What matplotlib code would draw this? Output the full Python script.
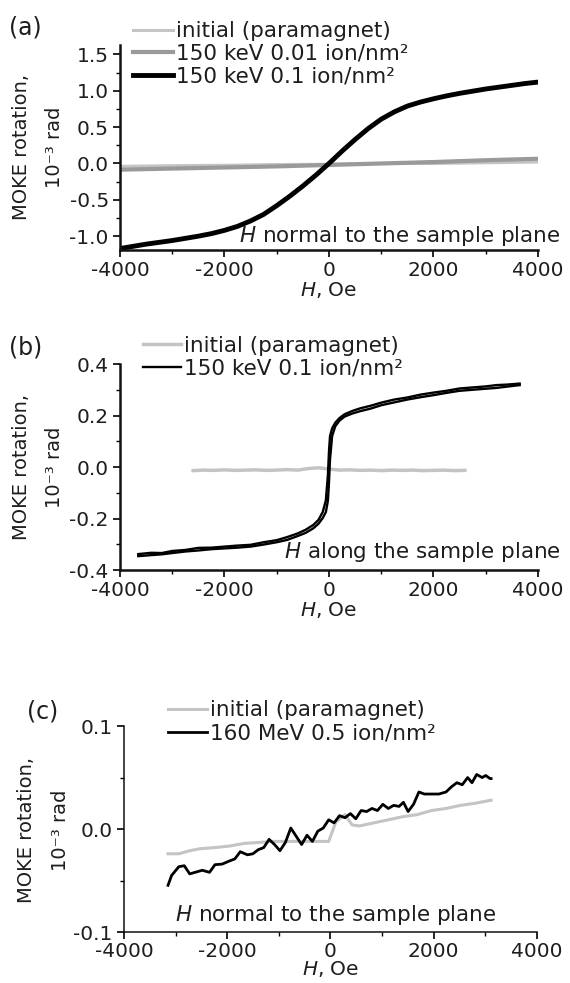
import numpy as np
import matplotlib
matplotlib.use("Agg")
import matplotlib.pyplot as plt
from matplotlib.ticker import MultipleLocator, FormatStrFormatter

plt.rcParams['font.family'] = ['DejaVu Sans']
plt.rcParams['axes.unicode_minus'] = False
plt.rcParams['mathtext.fontset'] = 'dejavusans'

# ---------------- panel (a) ----------------
a_H = [-4000, -3750, -3500, -3250, -3000, -2750, -2500, -2250, -2000, -1750, -1500,
       -1250, -1000, -750, -500, -250, 0, 250, 500, 750, 1000, 1250, 1500, 1750,
       2000, 2250, 2500, 2750, 3000, 3250, 3500, 3750, 4000]
a_high = [-1.17, -1.14, -1.11, -1.085, -1.06, -1.03, -1.00, -0.965, -0.92, -0.865, -0.79,
          -0.70, -0.58, -0.45, -0.31, -0.16, 0.0, 0.17, 0.33, 0.48, 0.61, 0.71, 0.79, 0.845,
          0.89, 0.93, 0.965, 0.995, 1.025, 1.05, 1.075, 1.10, 1.12]
a_H_coarse = [-4000, -3000, -2000, -1000, 0, 1000, 2000, 3000, 4000]
a_low = [-0.085, -0.07, -0.055, -0.04, -0.02, 0.0, 0.02, 0.045, 0.065]
a_init = [-0.04, -0.03, -0.025, -0.015, -0.01, 0.0, 0.0, 0.01, 0.02]

# ---------------- panel (b) ----------------
b_H = [-3650, -3400, -3200, -3000, -2750, -2500, -2250, -2000, -1750, -1500, -1250,
       -1000, -800, -600, -450, -300, -200, -120, -60, -20, 0, 20, 60, 120, 200, 300,
       450, 600, 800, 1000, 1250, 1500, 1750, 2000, 2250, 2500, 2750, 3000, 3200, 3400, 3650]
b_down = [-0.338, -0.333, -0.334, -0.326, -0.322, -0.314, -0.313, -0.309, -0.305, -0.302, -0.292,
          -0.284, -0.272, -0.258, -0.244, -0.225, -0.205, -0.175, -0.13, -0.03, 0.06, 0.12, 0.15,
          0.172, 0.19, 0.205, 0.218, 0.228, 0.238, 0.25, 0.262, 0.27, 0.281, 0.289, 0.296, 0.305,
          0.309, 0.313, 0.318, 0.320, 0.324]
b_up = [-0.346, -0.342, -0.339, -0.334, -0.328, -0.324, -0.319, -0.316, -0.313, -0.309, -0.301,
        -0.292, -0.283, -0.268, -0.256, -0.238, -0.22, -0.198, -0.175, -0.13, -0.06, 0.03, 0.12,
        0.158, 0.18, 0.196, 0.208, 0.217, 0.227, 0.24, 0.251, 0.262, 0.271, 0.279, 0.288, 0.296,
        0.300, 0.304, 0.307, 0.312, 0.318]
b_H_init = [-2600, -2400, -2200, -2000, -1800, -1600, -1400, -1200, -1000, -800, -600, -400,
            -200, 0, 200, 400, 600, 800, 1000, 1200, 1400, 1600, 1800, 2000, 2200, 2400, 2600]
b_init = [-0.014, -0.012, -0.013, -0.011, -0.013, -0.012, -0.011, -0.013, -0.012, -0.010, -0.012,
          -0.006, -0.003, -0.008, -0.012, -0.011, -0.013, -0.012, -0.014, -0.012, -0.013, -0.012,
          -0.014, -0.013, -0.012, -0.014, -0.013]

# ---------------- panel (c) ----------------
c_H = [-3147, -3077, -2937, -2832, -2727, -2622, -2483, -2343, -2238, -2098, -1958, -1853,
       -1748, -1608, -1503, -1398, -1293, -1189, -1084, -979, -874, -769, -664, -559, -455,
       -350, -245, -140, -35, 70, 175, 280, 385, 490, 594, 699, 804, 909, 1014, 1119, 1224,
       1329, 1413, 1503, 1608, 1713, 1818, 1958, 2098, 2238, 2343, 2448, 2552, 2657, 2741,
       2832, 2937, 3007, 3091, 3111]
c_high = [-0.0546, -0.045, -0.0365, -0.0356, -0.0435, -0.042, -0.040, -0.042, -0.0346, -0.034,
          -0.031, -0.029, -0.022, -0.025, -0.024, -0.020, -0.018, -0.010, -0.015, -0.021, -0.013,
          0.001, -0.007, -0.015, -0.006, -0.012, -0.002, 0.001, 0.009, 0.006, 0.013, 0.011, 0.015,
          0.010, 0.018, 0.017, 0.020, 0.018, 0.024, 0.020, 0.023, 0.022, 0.026, 0.017, 0.024,
          0.036, 0.034, 0.034, 0.034, 0.036, 0.041, 0.045, 0.043, 0.050, 0.045, 0.053, 0.050,
          0.052, 0.049, 0.049]
c_H_init = [-3147, -2937, -2727, -2517, -2238, -1958, -1678, -1398, -1119, -839, -559, -280,
            -35, 105, 280, 420, 559, 839, 1119, 1398, 1678, 1958, 2238, 2517, 2797, 3111]
c_init = [-0.024, -0.024, -0.021, -0.019, -0.018, -0.0165, -0.014, -0.013, -0.012, -0.012,
          -0.012, -0.012, -0.012, 0.007, 0.014, 0.004, 0.003, 0.006, 0.009, 0.012, 0.014,
          0.018, 0.020, 0.023, 0.025, 0.028]

TXT = '#1e1e1e'
LIGHT = '#c4c4c4'
MID = '#9a9a9a'

fig = plt.figure(figsize=(5.7, 9.83), dpi=100)


def style(ax, ylim, ymaj, ymin, spine_lw, xlabelpad=0, xpad=3):
    ax.set_xlim(-4000, 4000)
    ax.set_ylim(*ylim)
    ax.set_facecolor('none')
    for s in ['top', 'right']:
        ax.spines[s].set_visible(False)
    for s in ['left', 'bottom']:
        ax.spines[s].set_linewidth(spine_lw)
        ax.spines[s].set_color('#111111')
    ax.xaxis.set_major_locator(MultipleLocator(2000))
    ax.xaxis.set_minor_locator(MultipleLocator(1000))
    ax.yaxis.set_major_locator(MultipleLocator(ymaj))
    ax.yaxis.set_minor_locator(MultipleLocator(ymin))
    ax.yaxis.set_major_formatter(FormatStrFormatter('%.1f'))
    ax.tick_params(which='major', direction='out', length=5, width=1.2,
                   labelsize=14.5, pad=3, labelcolor=TXT)
    ax.tick_params(axis='x', which='major', pad=xpad)
    ax.tick_params(which='minor', direction='out', length=3, width=1)
    ax.set_xlabel(r'$\mathit{H}$, Oe', fontsize=14.5, labelpad=xlabelpad, color=TXT)


def ylab(y_center, x1, x2):
    fig.text(x1 / 570, y_center, 'MOKE rotation,', rotation=90, fontsize=14,
             ha='center', va='center', color=TXT)
    fig.text(x2 / 570, y_center, '10\u207b\u00b3 rad', rotation=90, fontsize=14,
             ha='center', va='center', color=TXT)


# ---- (a)
ax_a = fig.add_axes([0.2105, 0.7457, 0.7333, 0.2085])
style(ax_a, (-1.19, 1.63), 0.5, 0.25, 1.8)
ax_a.plot(a_H_coarse, a_init, color=LIGHT, lw=2.2, label='initial (paramagnet)')
ax_a.plot(a_H_coarse, a_low, color=MID, lw=3.0, label='150 keV 0.01 ion/nm\u00b2')
ax_a.plot(a_H, a_high, color='black', lw=3.5, label='150 keV 0.1 ion/nm\u00b2')
ax_a.legend(loc='upper left', bbox_to_anchor=(0.031, 1.117), frameon=False,
            fontsize=15.5, handlelength=1.85, handletextpad=0.15, labelspacing=0.12,
            borderpad=0, borderaxespad=0, labelcolor=TXT)
ax_a.text(1.055, 0.068, r'$\mathit{H}$ normal to the sample plane', transform=ax_a.transAxes,
          ha='right', va='center', fontsize=15.5, color=TXT, clip_on=False)
fig.text(9 / 570, 1 - 27 / 983, '(a)', fontsize=17, ha='left', va='center', color=TXT)
ylab(1 - 147.5 / 983, 22, 54)

# ---- (b)
ax_b = fig.add_axes([0.2105, 0.4201, 0.7333, 0.2096])
style(ax_b, (-0.4, 0.4), 0.2, 0.1, 1.8)
ax_b.plot(b_H_init, b_init, color=LIGHT, lw=2.5, label='initial (paramagnet)')
ax_b.plot(b_H, b_up, color='black', lw=1.7, label='150 keV 0.1 ion/nm\u00b2')
ax_b.plot(b_H, b_down, color='black', lw=1.7)
ax_b.legend(loc='upper left', bbox_to_anchor=(0.055, 1.136), frameon=False,
            fontsize=15.5, handlelength=1.75, handletextpad=0.15, labelspacing=0.12,
            borderpad=0, borderaxespad=0, labelcolor=TXT)
ax_b.text(1.055, 0.087, r'$\mathit{H}$ along the sample plane', transform=ax_b.transAxes,
          ha='right', va='center', fontsize=15.5, color=TXT, clip_on=False)
fig.text(9 / 570, 1 - 348 / 983, '(b)', fontsize=17, ha='left', va='center', color=TXT)
ylab(1 - 467 / 983, 22, 55)

# ---- (c)
ax_c = fig.add_axes([0.2175, 0.0518, 0.7246, 0.2096])
style(ax_c, (-0.1, 0.1), 0.1, 0.05, 1.1, xlabelpad=-1, xpad=2)
ax_c.plot(c_H_init, c_init, color=LIGHT, lw=2.2, label='initial (paramagnet)')
ax_c.plot(c_H, c_high, color='black', lw=2.0, label='160 MeV 0.5 ion/nm\u00b2')
ax_c.legend(loc='upper left', bbox_to_anchor=(0.107, 1.124), frameon=False,
            fontsize=15.5, handlelength=1.8, handletextpad=0.15, labelspacing=0.12,
            borderpad=0, borderaxespad=0, labelcolor=TXT)
ax_c.text(0.903, 0.081, r'$\mathit{H}$ normal to the sample plane', transform=ax_c.transAxes,
          ha='right', va='center', fontsize=15.5, color=TXT, clip_on=False)
fig.text(27 / 570, 1 - 712 / 983, '(c)', fontsize=17, ha='left', va='center', color=TXT)
ylab(1 - 830 / 983, 27, 60)

fig.savefig('out.png', dpi=100)
